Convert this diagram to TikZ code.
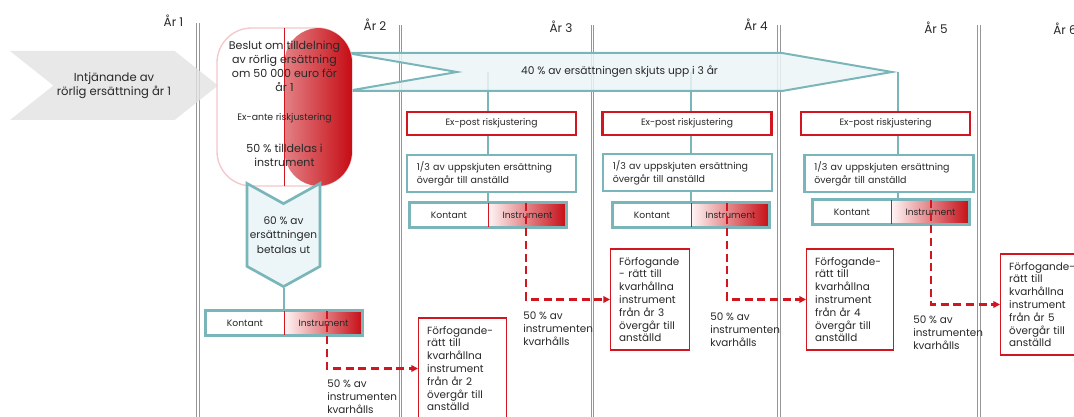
\documentclass[tikz,border=0pt]{standalone}
\usepackage{fontspec}
\setmainfont{Poppins}
\usetikzlibrary{shapes.symbols,positioning,arrows.meta,backgrounds}

\definecolor{tealline}{RGB}{122,182,185}
\definecolor{tealfill}{RGB}{236,245,247}
\definecolor{redline}{RGB}{210,22,32}
\definecolor{deepred}{RGB}{198,12,20}
\definecolor{pinkline}{RGB}{243,200,202}
\definecolor{chevgray}{RGB}{226,226,226}
\definecolor{yeargray}{RGB}{150,150,150}
\definecolor{textcol}{RGB}{40,40,40}

\tikzset{
	yearline/.style={draw=yeargray, line width=0.7pt, double=white, double distance=1.1pt},
	yearlabel/.style={font=\fontsize{9}{10}\selectfont},
	earnshape/.style={signal, signal to=east, signal from=west, signal pointer angle=77,
		fill=chevgray, fill opacity=0.8, text opacity=1, minimum width=156pt, minimum height=51.75pt,
		inner sep=0pt, align=center, font=\fontsize{8.7}{10}\selectfont},
	deferarrow/.style={signal, signal to=east, signal from=west, signal pointer angle=19.6,
		draw=tealline, line width=1.5pt, fill=tealfill, fill opacity=0.85, text opacity=1,
		minimum width=408.75pt, minimum height=28.5pt, inner sep=0pt, font=\fontsize{8}{9}\selectfont},
	decisionbox/.style={rectangle, rounded corners=26pt, draw=pinkline, line width=1pt, fill=white,
		minimum width=101.25pt, minimum height=118.5pt,
		postaction={path picture={
			\shade[left color=red!4, right color=deepred] (path picture bounding box.north) rectangle (path picture bounding box.south east);
			\draw[redline, line width=0.6pt] (path picture bounding box.north) -- (path picture bounding box.south);}}},
	boxtext/.style={align=center, inner sep=0pt, font=\fontsize{8.3}{10.5}\selectfont},
	smalltext/.style={inner sep=0pt, font=\fontsize{7}{8}\selectfont},
	payshape/.style={signal, signal to=south, signal from=north, signal pointer angle=122,
		draw=tealline, line width=2pt, fill=tealfill, minimum width=54.75pt, minimum height=75pt,
		inner sep=0pt, align=center, font=\fontsize{7.9}{10.7}\selectfont},
	cashbox/.style={rectangle, fill=white, minimum width=58.5pt, minimum height=18pt, inner sep=0pt,
		font=\fontsize{6.9}{8}\selectfont},
	instbox/.style={rectangle, left color=red!4, right color=deepred, minimum width=58.5pt,
		minimum height=18pt, inner sep=0pt, font=\fontsize{6.9}{8}\selectfont},
	barframe/.style={draw=tealline, line width=2pt},
	splitline/.style={draw=redline, line width=0.6pt},
	expostbox/.style={rectangle, draw=redline, line width=1.6pt, fill=white, minimum width=126.75pt,
		minimum height=17.25pt, inner sep=0pt, font=\fontsize{6.9}{8}\selectfont},
	sharebox/.style={rectangle, draw=tealline, line width=2pt, fill=white, minimum width=126.75pt,
		minimum height=27.75pt, text width=112pt, inner xsep=7pt, align=left,
		font=\fontsize{7.1}{10}\selectfont},
	keepbox/.style={rectangle, draw=redline, line width=0.8pt, fill=white, anchor=west,
		minimum height=75.75pt, inner xsep=6.5pt, align=left, font=\fontsize{7.8}{9.6}\selectfont},
	heldnote/.style={anchor=north west, inner sep=0pt, align=left, font=\fontsize{7.8}{9.75}\selectfont},
	tealconn/.style={draw=tealline, line width=1.5pt},
	keeparrow/.style={draw=redline, line width=1.8pt, dash pattern=on 6pt off 3.5pt,
		-{Triangle[length=5pt,width=5pt]}},
}

\begin{document}
\begin{tikzpicture}[x=0.75pt, y=-0.75pt, text=textcol]
	\useasboundingbox (0,0) rectangle (1074,417);

	\foreach \n/\x/\y in {1/173.5/21, 2/375/25, 3/561/27, 4/756/25, 5/936/28, 6/1065/29}
		\node[yearlabel] (yr\n) at (\x,\y) {År \n};

	\node[earnshape] (earn) at (114,85.5) {Intjänande av\\rörlig ersättning år 1};
	\node[deferarrow] (defer) at (619.5,72) {40 \% av ersättningen skjuts upp i 3 år};

	\node[decisionbox] (decision) at (284.5,107) {};
	\node[boxtext] (decisiontext) at (284.5,66) {Beslut om tilldelning\\av rörlig ersättning\\om 50 000 euro för\\år 1};
	\node[smalltext] (exante) at (284.5,118) {Ex-ante riskjustering};
	\node[boxtext] (sharetext) at (284.5,155) {50 \% tilldelas i\\instrument};

	\node[payshape] (payout) at (283.5,235) {60 \% av\\ersättningen\\betalas ut};

	\foreach \i/\x in {1/491.5, 2/687, 3/885.5}
		\node[expostbox] (post\i) at (\x,123.5) {Ex-post riskjustering};
	\foreach \i/\x/\y in {1/491.5/173.5, 2/687.5/172.5, 3/889/173.5}
		\node[sharebox] (third\i) at (\x,\y) {1/3 av uppskjuten ersättning\\övergår till anställd};

	\foreach \i/\x/\y in {0/245/323, 1/449/215, 2/652/215, 3/852/212} {
		\node[cashbox] (kon\i) at (\x,\y) {Kontant};
		\node[instbox, right=0pt of kon\i] (ins\i) {Instrument};
		\draw[barframe] (kon\i.north west) rectangle (ins\i.south east);
		\draw[splitline] (ins\i.north west) -- (ins\i.south west);
	}

	\node[keepbox, text width=53pt] (keep0) at (418,368.5) {Förfogande-\\rätt till\\kvarhållna\\instrument\\från år 2\\övergår till\\anställd};
	\node[keepbox, text width=46.25pt] (keep1) at (610,299.5) {Förfogande\\- rätt till\\kvarhållna\\instrument\\från år 3\\övergår till\\anställd};
	\node[keepbox, text width=52.25pt] (keep2) at (806,299.5) {Förfogande-\\rätt till\\kvarhållna\\instrument\\från år 4\\övergår till\\anställd};
	\node[keepbox, text width=53pt] (keep3) at (1000,304.5) {Förfogande-\\rätt till\\kvarhållna\\instrument\\från år 5\\övergår till\\anställd};

	\foreach \i/\x/\y in {0/327/380, 1/523/312, 2/710/313, 3/913/316}
		\node[heldnote] (held\i) at (\x,\y) {50 \% av\\instrumenten\\kvarhålls};

	\coordinate (drop0) at (327,311);
	\coordinate (drop1) at (526,203);
	\coordinate (drop2) at (727,203);
	\coordinate (drop3) at (931,200);
	\foreach \i in {0,1,2,3}
		\draw[keeparrow] (drop\i) |- (keep\i.west);

	\begin{pgfonlayer}{background}
		\draw[yearline] (198,23) -- (198,417);
		\foreach \x in {400.5, 592.5, 779, 979}
			\draw[yearline] (\x,25) -- (\x,417);
		\draw[tealconn] (ins1.north west |- defer.center) -- (ins1.north west);
		\draw[tealconn] (ins2.north west |- defer.center) -- (ins2.north west);
		\draw[tealconn] (defer.east) -- (defer.east |- ins3.north);
		\draw[tealconn] (payout.south) -- (payout.south |- kon0.north);
	\end{pgfonlayer}
\end{tikzpicture}
\end{document}
